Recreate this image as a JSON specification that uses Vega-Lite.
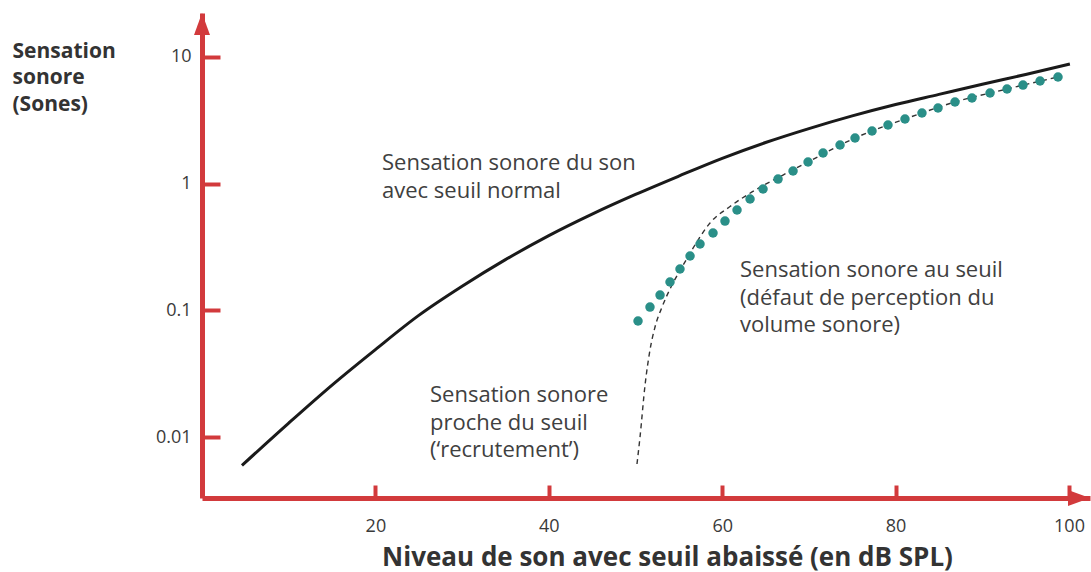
{
  "$schema": "https://vega.github.io/schema/vega-lite/v6.json",
  "width": 888,
  "height": 485,
  "autosize": {"type": "none"},
  "padding": {"left": 202, "top": 13, "right": 1, "bottom": 74},
  "background": "white",
  "config": {"view": {"stroke": null}, "axis": {"grid": false}},
  "datasets": {
    "normal": [
      {"x": 4.6, "y": 0.00596},
      {"x": 10, "y": 0.01288},
      {"x": 15, "y": 0.0257},
      {"x": 20, "y": 0.0490},
      {"x": 25, "y": 0.0912},
      {"x": 30, "y": 0.1549},
      {"x": 35, "y": 0.2512},
      {"x": 40, "y": 0.389},
      {"x": 45, "y": 0.575},
      {"x": 50, "y": 0.822},
      {"x": 55, "y": 1.148},
      {"x": 60, "y": 1.585},
      {"x": 65, "y": 2.113},
      {"x": 70, "y": 2.723},
      {"x": 75, "y": 3.428},
      {"x": 80, "y": 4.217},
      {"x": 85, "y": 5.070},
      {"x": 90, "y": 6.095},
      {"x": 95, "y": 7.278},
      {"x": 100.1, "y": 8.8}
    ],
    "dashed": [
      {"x": 50.17, "y": 0.00612},
      {"x": 50.52, "y": 0.01},
      {"x": 51.10, "y": 0.0257},
      {"x": 51.67, "y": 0.0486},
      {"x": 52.25, "y": 0.0739},
      {"x": 53.06, "y": 0.1062},
      {"x": 54.21, "y": 0.1585},
      {"x": 55.71, "y": 0.241},
      {"x": 57.21, "y": 0.359},
      {"x": 58.59, "y": 0.489},
      {"x": 60.90, "y": 0.66},
      {"x": 63.44, "y": 0.86},
      {"x": 67.01, "y": 1.17},
      {"x": 69.90, "y": 1.483},
      {"x": 75.32, "y": 2.294},
      {"x": 81.08, "y": 3.239},
      {"x": 86.85, "y": 4.413},
      {"x": 92.85, "y": 5.589},
      {"x": 98.73, "y": 6.953}
    ],
    "dots": [
      {"x": 50.29, "y": 0.0824},
      {"x": 51.67, "y": 0.1062},
      {"x": 52.83, "y": 0.1321},
      {"x": 53.98, "y": 0.1674},
      {"x": 55.13, "y": 0.2120},
      {"x": 56.29, "y": 0.2685},
      {"x": 57.44, "y": 0.3340},
      {"x": 58.94, "y": 0.4078},
      {"x": 60.32, "y": 0.5071},
      {"x": 61.71, "y": 0.6196},
      {"x": 63.21, "y": 0.7567},
      {"x": 64.71, "y": 0.9078},
      {"x": 66.44, "y": 1.088},
      {"x": 68.17, "y": 1.259},
      {"x": 69.90, "y": 1.483},
      {"x": 71.63, "y": 1.746},
      {"x": 73.59, "y": 2.020},
      {"x": 75.32, "y": 2.294},
      {"x": 77.28, "y": 2.605},
      {"x": 79.12, "y": 2.905},
      {"x": 81.08, "y": 3.239},
      {"x": 83.04, "y": 3.613},
      {"x": 84.89, "y": 3.957},
      {"x": 86.85, "y": 4.413},
      {"x": 88.81, "y": 4.747},
      {"x": 90.89, "y": 5.197},
      {"x": 92.85, "y": 5.589},
      {"x": 94.69, "y": 6.008},
      {"x": 96.66, "y": 6.464},
      {"x": 98.73, "y": 6.953}
    ],
    "notes": [
      {"x": 20.76, "y": 1.282, "label": ["Sensation sonore du son", "avec seuil normal"]},
      {"x": 62.05, "y": 0.1833, "label": ["Sensation sonore au seuil", "(défaut de perception du", "volume sonore)"]},
      {"x": 26.3, "y": 0.01889, "label": ["Sensation sonore", "proche du seuil", "(‘recrutement’)"]}
    ],
    "arrowY": [{"x": 0, "y": 22.25}],
    "arrowX": [{"x": 102.42, "y": 0.0033}]
  },
  "layer": [
    {
      "data": {"name": "normal"},
      "mark": {"type": "line", "color": "#1a1a1a", "strokeWidth": 3, "interpolate": "monotone"},
      "encoding": {
        "x": {
          "field": "x", "type": "quantitative",
          "scale": {"domain": [0, 102.42], "nice": false, "zero": false},
          "axis": {
            "values": [20, 40, 60, 80, 100],
            "title": "Niveau de son avec seuil abaissé (en dB SPL)",
            "domainColor": "#d23a3c", "domainWidth": 5,
            "tickColor": "#d23a3c", "tickWidth": 4, "tickSize": -13,
            "labelPadding": 32,
            "labelFont": "Open Sans", "labelFontSize": 18, "labelColor": "#3a3a3a",
            "titleFont": "Open Sans", "titleFontSize": 26, "titleFontWeight": "bold", "titleColor": "#333333",
            "titleX": 465, "titleY": 67, "titleBaseline": "alphabetic"
          }
        },
        "y": {
          "field": "y", "type": "quantitative",
          "scale": {"type": "log", "domain": [0.0033, 22.25], "nice": false},
          "axis": {
            "values": [0.01, 0.1, 1, 10],
            "format": "~g",
            "title": ["Sensation", "sonore", "(Sones)"],
            "titleAngle": 0, "titleAlign": "left", "titleBaseline": "alphabetic",
            "titleX": -190, "titleY": 44, "titleLineHeight": 26.5,
            "domainColor": "#d23a3c", "domainWidth": 5,
            "tickColor": "#d23a3c", "tickWidth": 4, "tickSize": -18,
            "labelPadding": 29,
            "labelFont": "Open Sans", "labelFontSize": 18, "labelColor": "#3a3a3a",
            "titleFont": "Open Sans", "titleFontSize": 21, "titleFontWeight": "bold", "titleColor": "#333333"
          }
        }
      }
    },
    {
      "data": {"name": "dashed"},
      "mark": {"type": "line", "color": "#333333", "strokeWidth": 1.4, "strokeDash": [5, 4], "interpolate": "monotone"},
      "encoding": {
        "x": {"field": "x", "type": "quantitative"},
        "y": {"field": "y", "type": "quantitative"}
      }
    },
    {
      "data": {"name": "dots"},
      "mark": {"type": "point", "filled": true, "color": "#2a8f88", "size": 90, "opacity": 1},
      "encoding": {
        "x": {"field": "x", "type": "quantitative"},
        "y": {"field": "y", "type": "quantitative"}
      }
    },
    {
      "data": {"name": "notes"},
      "mark": {"type": "text", "align": "left", "baseline": "alphabetic", "font": "Open Sans", "fontSize": 22, "color": "#404040", "lineHeight": 27.5},
      "encoding": {
        "x": {"field": "x", "type": "quantitative"},
        "y": {"field": "y", "type": "quantitative"},
        "text": {"field": "label"}
      }
    },
    {
      "data": {"name": "arrowY"},
      "mark": {"type": "point", "filled": true, "color": "#d23a3c", "opacity": 1, "size": 484, "shape": "M0,0L0.727,2L-0.727,2Z", "clip": false},
      "encoding": {
        "x": {"field": "x", "type": "quantitative"},
        "y": {"field": "y", "type": "quantitative"}
      }
    },
    {
      "data": {"name": "arrowX"},
      "mark": {"type": "point", "filled": true, "color": "#d23a3c", "opacity": 1, "size": 484, "shape": "M0,0L-2,-0.727L-2,0.727Z", "clip": false},
      "encoding": {
        "x": {"field": "x", "type": "quantitative"},
        "y": {"field": "y", "type": "quantitative"}
      }
    }
  ]
}
